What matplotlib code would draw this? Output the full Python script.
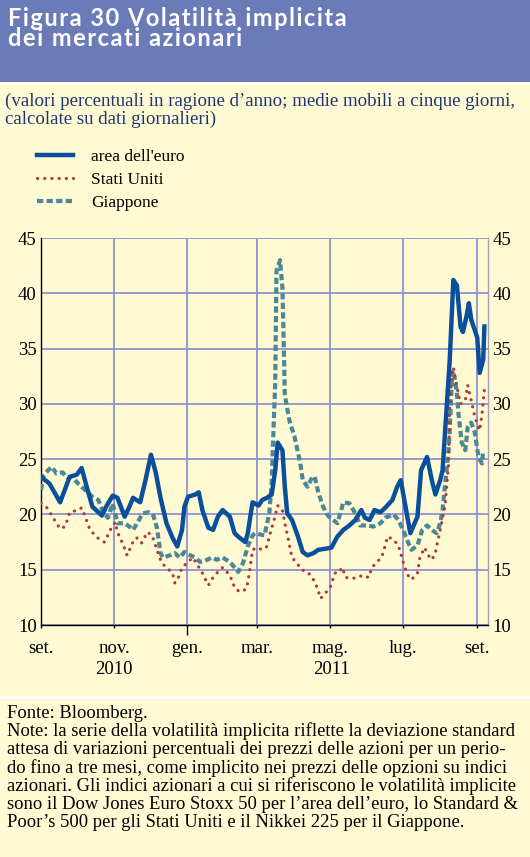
import pandas as pd
import matplotlib.pyplot as plt
from matplotlib.patches import Rectangle
from matplotlib.lines import Line2D

plt.rcParams['font.family'] = ['Liberation Serif', 'DejaVu Serif']

W, H = 530, 857
CREAM = '#FFFAD4'
BAND = '#6B7BB8'
NAVY = '#1E3574'
GRID = '#8C95CE'
EURO_C = '#0A4F9C'
US_C = '#B03A36'
JP_C = '#4B8797'

# area dell'euro (solid)
euro_dates = ['2010-09-01', '2010-09-08', '2010-09-17', '2010-09-25', '2010-10-01', '2010-10-05',
              '2010-10-10', '2010-10-14', '2010-10-22', '2010-10-26', '2010-10-31', '2010-11-04',
              '2010-11-10', '2010-11-14', '2010-11-17', '2010-11-23', '2010-11-27', '2010-12-02',
              '2010-12-06', '2010-12-10', '2010-12-15', '2010-12-20', '2010-12-24', '2010-12-28',
              '2010-12-30', '2011-01-02', '2011-01-08', '2011-01-11', '2011-01-14', '2011-01-19',
              '2011-01-23', '2011-01-27', '2011-01-31', '2011-02-06', '2011-02-10', '2011-02-14',
              '2011-02-19', '2011-02-21', '2011-02-25', '2011-03-02', '2011-03-05', '2011-03-09',
              '2011-03-13', '2011-03-16', '2011-03-18', '2011-03-22', '2011-03-24', '2011-03-26',
              '2011-03-30', '2011-04-04', '2011-04-08', '2011-04-12', '2011-04-17', '2011-04-21',
              '2011-04-27', '2011-05-02', '2011-05-07', '2011-05-12', '2011-05-17', '2011-05-22',
              '2011-05-27', '2011-05-30', '2011-06-03', '2011-06-07', '2011-06-12', '2011-06-16',
              '2011-06-22', '2011-06-26', '2011-06-29', '2011-07-03', '2011-07-07', '2011-07-13',
              '2011-07-16', '2011-07-21', '2011-07-25', '2011-07-28', '2011-08-01', '2011-08-03',
              '2011-08-09', '2011-08-12', '2011-08-15', '2011-08-18', '2011-08-20', '2011-08-23',
              '2011-08-25', '2011-08-27', '2011-09-01', '2011-09-03', '2011-09-06', '2011-09-07']
euro_vals = [23.4, 22.8, 21.1, 23.4, 23.6, 24.2,
             22.2, 20.7, 19.9, 20.8, 21.7, 21.5,
             19.8, 20.7, 21.5, 21.1, 22.9, 25.4,
             23.8, 21.5, 19.2, 17.9, 17.1, 18.6,
             20.7, 21.6, 21.8, 22.0, 20.4, 18.8,
             18.6, 19.8, 20.4, 19.8, 18.3, 17.9,
             17.5, 18.3, 21.1, 20.8, 21.3, 21.5,
             21.8, 24.0, 26.5, 25.8, 22.5, 20.1,
             19.5, 18.0, 16.6, 16.3, 16.5, 16.8,
             16.9, 17.0, 18.0, 18.6, 19.0, 19.5,
             20.4, 19.7, 19.5, 20.4, 20.2, 20.6,
             21.3, 22.5, 23.1, 20.7, 18.3, 19.8,
             24.0, 25.2, 23.1, 21.8, 23.1, 24.0,
             34.0, 41.2, 40.7, 37.0, 36.5, 37.9,
             39.1, 37.6, 36.0, 32.8, 34.0, 37.0]

# Stati Uniti (dotted)
us_dates = ['2010-09-01', '2010-09-06', '2010-09-10', '2010-09-14', '2010-09-17', '2010-09-21',
            '2010-09-23', '2010-09-25', '2010-10-02', '2010-10-05', '2010-10-08', '2010-10-12',
            '2010-10-18', '2010-10-24', '2010-10-26', '2010-10-29', '2010-11-02', '2010-11-04',
            '2010-11-09', '2010-11-12', '2010-11-14', '2010-11-17', '2010-11-20', '2010-11-24',
            '2010-11-29', '2010-12-03', '2010-12-07', '2010-12-11', '2010-12-15', '2010-12-20',
            '2010-12-22', '2010-12-25', '2010-12-28', '2011-01-01', '2011-01-06', '2011-01-10',
            '2011-01-14', '2011-01-19', '2011-01-23', '2011-01-27', '2011-01-31', '2011-02-06',
            '2011-02-10', '2011-02-14', '2011-02-19', '2011-02-21', '2011-02-23', '2011-02-25',
            '2011-03-01', '2011-03-05', '2011-03-09', '2011-03-11', '2011-03-15', '2011-03-18',
            '2011-03-22', '2011-03-24', '2011-03-27', '2011-03-30', '2011-04-03', '2011-04-07',
            '2011-04-12', '2011-04-16', '2011-04-20', '2011-04-23', '2011-04-27', '2011-05-01',
            '2011-05-05', '2011-05-08', '2011-05-11', '2011-05-14', '2011-05-19', '2011-05-24',
            '2011-05-28', '2011-06-02', '2011-06-05', '2011-06-09', '2011-06-13', '2011-06-16',
            '2011-06-18', '2011-06-23', '2011-06-27', '2011-06-30', '2011-07-02', '2011-07-05',
            '2011-07-08', '2011-07-13', '2011-07-15', '2011-07-19', '2011-07-22', '2011-07-25',
            '2011-07-28', '2011-07-29', '2011-08-01', '2011-08-05', '2011-08-08', '2011-08-09',
            '2011-08-11', '2011-08-12', '2011-08-15', '2011-08-18', '2011-08-22', '2011-08-24',
            '2011-08-27', '2011-08-30', '2011-09-03', '2011-09-05', '2011-09-07']
us_vals = [21.0, 20.6, 19.9, 19.2, 18.7, 18.9,
           19.5, 20.2, 20.4, 20.6, 19.8, 18.6,
           17.9, 17.5, 17.9, 18.6, 19.3, 18.4,
           17.2, 16.3, 16.8, 17.5, 17.9, 17.4,
           18.4, 18.1, 16.8, 15.6, 15.2, 14.7,
           13.8, 14.3, 15.2, 15.6, 16.1, 15.4,
           14.7, 13.6, 14.3, 14.8, 15.2, 14.5,
           13.4, 13.0, 13.2, 13.8, 15.2, 16.8,
           17.0, 16.8, 17.1, 18.0, 19.5, 20.8,
           20.4, 19.2, 17.7, 16.1, 15.6, 15.0,
           14.8, 14.3, 13.4, 12.4, 12.9, 13.4,
           14.7, 14.7, 15.2, 14.3, 14.2, 14.3,
           14.5, 14.3, 15.2, 15.7, 16.1, 17.2,
           18.0, 17.7, 17.2, 16.1, 15.3, 14.5,
           14.1, 14.7, 16.1, 17.0, 16.3, 15.9,
           16.5, 17.1, 18.6, 20.7, 24.6, 30.3,
           32.8, 33.3, 31.5, 30.0, 30.3, 31.7,
           30.3, 28.8, 27.6, 29.1, 31.3]

# Giappone (dashed)
jp_dates = ['2010-09-01', '2010-09-03', '2010-09-07', '2010-09-10', '2010-09-14', '2010-09-19',
            '2010-09-23', '2010-09-27', '2010-10-02', '2010-10-08', '2010-10-14', '2010-10-19',
            '2010-10-23', '2010-10-27', '2010-10-31', '2010-11-04', '2010-11-10', '2010-11-14',
            '2010-11-17', '2010-11-21', '2010-11-25', '2010-11-30', '2010-12-04', '2010-12-07',
            '2010-12-10', '2010-12-12', '2010-12-18', '2010-12-22', '2010-12-26', '2010-12-30',
            '2011-01-04', '2011-01-08', '2011-01-12', '2011-01-18', '2011-01-22', '2011-01-26',
            '2011-01-31', '2011-02-06', '2011-02-10', '2011-02-13', '2011-02-17', '2011-02-21',
            '2011-02-25', '2011-02-27', '2011-03-07', '2011-03-11', '2011-03-13', '2011-03-14',
            '2011-03-16', '2011-03-17', '2011-03-20', '2011-03-22', '2011-03-23', '2011-03-24',
            '2011-03-28', '2011-04-01', '2011-04-06', '2011-04-08', '2011-04-12', '2011-04-16',
            '2011-04-18', '2011-04-21', '2011-04-25', '2011-04-29', '2011-05-01', '2011-05-07',
            '2011-05-12', '2011-05-17', '2011-05-22', '2011-05-26', '2011-06-01', '2011-06-06',
            '2011-06-12', '2011-06-16', '2011-06-23', '2011-06-27', '2011-07-01', '2011-07-05',
            '2011-07-08', '2011-07-13', '2011-07-17', '2011-07-21', '2011-07-25', '2011-07-29',
            '2011-08-01', '2011-08-03', '2011-08-06', '2011-08-08', '2011-08-09', '2011-08-11',
            '2011-08-12', '2011-08-15', '2011-08-16', '2011-08-19', '2011-08-22', '2011-08-24',
            '2011-08-27', '2011-08-30', '2011-09-02', '2011-09-05', '2011-09-06']
jp_vals = [22.2, 23.5, 24.0, 24.3, 23.7, 23.8,
           23.3, 23.4, 22.8, 22.2, 21.6, 21.3,
           20.2, 19.7, 21.0, 19.2, 19.2, 18.9,
           18.6, 19.3, 20.1, 20.2, 19.9, 18.8,
           16.5, 16.1, 16.3, 16.5, 16.1, 16.6,
           16.3, 16.1, 15.7, 15.9, 16.1, 15.9,
           16.1, 15.7, 15.2, 14.8, 15.6, 17.1,
           18.1, 18.3, 18.1, 20.1, 22.8, 26.1,
           32.0, 42.0, 43.0, 40.5, 36.0, 30.8,
           28.4, 27.1, 24.6, 23.1, 22.5, 23.4,
           23.4, 22.0, 20.7, 19.9, 19.7, 19.2,
           21.1, 21.0, 20.1, 19.0, 19.0, 18.9,
           19.2, 19.7, 20.0, 19.5, 18.6, 17.5,
           16.8, 17.2, 18.6, 19.0, 18.6, 18.3,
           19.2, 20.4, 23.7, 25.8, 27.6, 32.8,
           33.0, 31.0, 29.4, 26.5, 25.8, 27.9,
           28.3, 27.4, 25.2, 24.6, 25.8]

month_ticks = ['2010-09-01', '2010-11-01', '2011-01-01', '2011-03-01',
               '2011-05-01', '2011-07-01', '2011-09-01']
month_labels = ['set.', 'nov.', 'gen.', 'mar.', 'mag.', 'lug.', 'set.']
year_pos = ['2010-11-01', '2011-05-02']
year_labels = ['2010', '2011']
y_ticks = [10, 15, 20, 25, 30, 35, 40, 45]

title_lines = ['Figura 30 Volatilità implicita', 'dei mercati azionari']
subtitle_lines = ['(valori percentuali in ragione d\u2019anno; medie mobili a cinque giorni,',
                  'calcolate su dati giornalieri)']
note_lines = ['Fonte: Bloomberg.',
              'Note: la serie della volatilità implicita riflette la deviazione standard',
              'attesa di variazioni percentuali dei prezzi delle azioni per un perio-',
              'do fino a tre mesi, come implicito nei prezzi delle opzioni su indici',
              'azionari. Gli indici azionari a cui si riferiscono le volatilità implicite',
              'sono il Dow Jones Euro Stoxx 50 per l\u2019area dell\u2019euro, lo Standard &',
              'Poor\u2019s 500 per gli Stati Uniti e il Nikkei 225 per il Giappone.']


def fx(px):
    return px / W


def fy(py):
    return 1 - py / H


def spaced(s):
    # the title is letter-spaced in the original
    return '\u200a'.join(s)


fig = plt.figure(figsize=(W / 100, H / 100), dpi=100, facecolor=CREAM)

# header band and separators
fig.patches.append(Rectangle((0, fy(82)), 1, 82 / H, transform=fig.transFigure,
                             facecolor=BAND, edgecolor='none', zorder=0))
fig.add_artist(Line2D([0, 1], [fy(82.5)] * 2, color='white', lw=1))
fig.add_artist(Line2D([0, 1], [fy(697)] * 2, color='white', lw=2))

for i, line in enumerate(title_lines):
    fig.text(fx(8), fy(18 + 21 * i), spaced(line), family=['Lato', 'DejaVu Sans'],
             weight='bold', size=17, color='white', va='center')
for i, line in enumerate(subtitle_lines):
    fig.text(fx(5), fy(101 + 18 * i), line, size=13.6, color=NAVY, va='center')
for i, line in enumerate(note_lines):
    fig.text(fx(7), fy(713 + 18.3 * i), line, size=13.4, color='black', va='center')

ax = fig.add_axes([fx(41), fy(625), fx(447), 387 / H])
ax.set_facecolor(CREAM)

ax.plot(pd.to_datetime(jp_dates), jp_vals, color=JP_C, lw=3, dashes=(1.5, 0.8),
        label='Giappone', zorder=3)
ax.plot(pd.to_datetime(us_dates), us_vals, color=US_C, lw=2.3, linestyle=(0, (0.05, 2.2)),
        dash_capstyle='round', label='Stati Uniti', zorder=4)
ax.plot(pd.to_datetime(euro_dates), euro_vals, color=EURO_C, lw=3.2,
        solid_joinstyle='round', label="area dell'euro", zorder=5)

ax.set_xlim(pd.Timestamp('2010-09-01'), pd.Timestamp('2011-09-10'))
ax.set_ylim(10, 45)

ax.set_xticks(pd.to_datetime(month_ticks))
ax.set_xticklabels(month_labels)
ax.set_yticks(y_ticks)
ax.tick_params(axis='x', direction='out', length=2.5, width=1, color='black',
               pad=8, labelsize=13.5)
ax.xaxis.get_major_ticks()[2].tick1line.set_markersize(7.5)
ax.tick_params(axis='y', length=0, labelleft=True, labelright=True, pad=3, labelsize=13.5)

for pos, lab in zip(year_pos, year_labels):
    ax.text(pd.Timestamp(pos), -0.116, lab, transform=ax.get_xaxis_transform(),
            ha='center', va='center', size=13.5)

ax.grid(True, color=GRID, lw=1.3)
ax.set_axisbelow(True)
ax.spines['top'].set_visible(False)
ax.spines['left'].set_color('black')
ax.spines['bottom'].set_color('black')
ax.spines['right'].set_color('#A0A0B4')
for s in ax.spines.values():
    s.set_linewidth(1)

handles, labels = ax.get_legend_handles_labels()
order = [2, 1, 0]
ax.legend([handles[i] for i in order], [labels[i] for i in order],
          loc='upper left', bbox_to_anchor=(fx(37), fy(149)),
          bbox_transform=fig.transFigure, frameon=False, fontsize=12.5,
          handlelength=2.1, handletextpad=1.0, labelspacing=0.38,
          borderpad=0, borderaxespad=0)

fig.savefig('out.png', dpi=100, facecolor=fig.get_facecolor())
